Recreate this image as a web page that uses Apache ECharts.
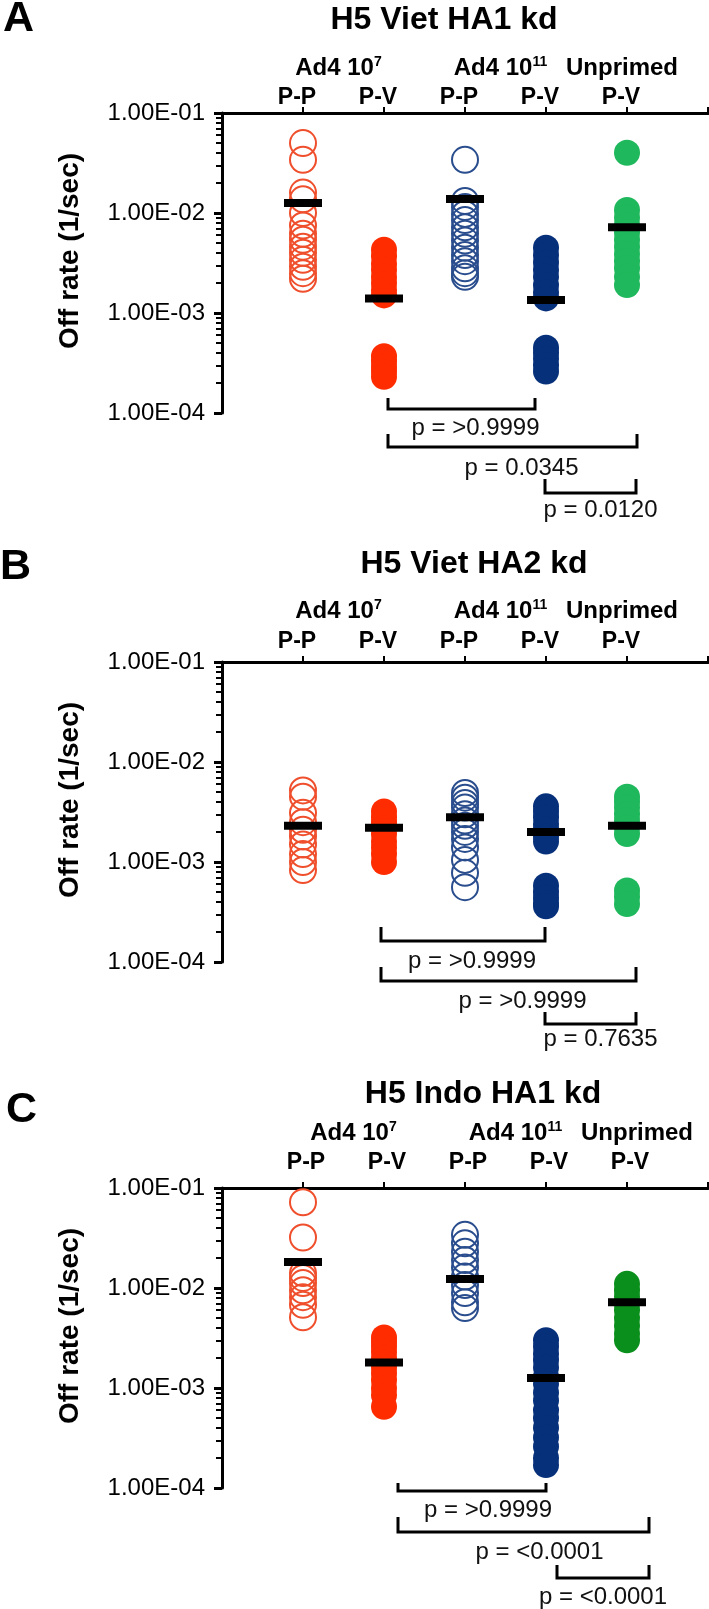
<!DOCTYPE html>
<html><head><meta charset="utf-8">
<script src="https://cdn.jsdelivr.net/npm/echarts@6/dist/echarts.min.js"></script>
<style>html,body{margin:0;padding:0;background:#fff}#c{width:709px;height:1609px}</style>
</head><body><div id="c"></div>
<script>
// ---------- data ----------
const panelLetters = ['A', 'B', 'C'];
const panelTitles = ['H5 Viet HA1 kd', 'H5 Viet HA2 kd', 'H5 Indo HA1 kd'];
const subLabels = ['P-P', 'P-V', 'P-P', 'P-V', 'P-V'];
const groupNames = ['Ad4 10', 'Ad4 10', 'Unprimed'];
const groupSups = ['7', '11', ''];
const groupSpans = [[1, 2], [3, 4], [5, 5]];
const yAxisName = 'Off rate (1/sec)';
const yMajorTicks = [1e-4, 1e-3, 1e-2, 1e-1];
const comparisons = [[2, 4], [2, 5], [4, 5]];

// Panel A: H5 Viet HA1 kd
const A_ad4e7_PP = [0.050, 0.034, 0.016, 0.0137, 0.010, 0.0075, 0.0062, 0.0054, 0.0046, 0.0040, 0.0034, 0.0029, 0.0025, 0.0022];
const A_ad4e7_PV = [0.0043, 0.0037, 0.0031, 0.0027, 0.0023, 0.0020, 0.0017, 0.0015, 0.00037, 0.00033, 0.00029, 0.00026, 0.00023];
const A_ad4e11_PP = [0.034, 0.0132, 0.0115, 0.0098, 0.0085, 0.0072, 0.0062, 0.0053, 0.0045, 0.0038, 0.0033, 0.0028, 0.0025, 0.0023];
const A_ad4e11_PV = [0.0045, 0.0038, 0.0032, 0.0027, 0.0023, 0.0019, 0.0016, 0.0014, 0.00045, 0.00040, 0.00035, 0.00030, 0.00026];
const A_unprimed_PV = [0.040, 0.0107, 0.0090, 0.0076, 0.0064, 0.0054, 0.0046, 0.0039, 0.0033, 0.0028, 0.0023, 0.0019];
const A_means = [0.0126, 0.0014, 0.0138, 0.00135, 0.0072];
const A_pvalues = ['p = >0.9999', 'p = 0.0345', 'p = 0.0120'];

// Panel B: H5 Viet HA2 kd
const B_ad4e7_PP = [0.0052, 0.0045, 0.0031, 0.0025, 0.0021, 0.0018, 0.0015, 0.0012, 0.0010, 0.00083];
const B_ad4e7_PV = [0.0032, 0.0028, 0.0025, 0.0022, 0.0019, 0.0016, 0.0014, 0.0012, 0.0010];
const B_ad4e11_PP = [0.0049, 0.0044, 0.0039, 0.0035, 0.0030, 0.0026, 0.0023, 0.0020, 0.0017, 0.0014, 0.00105, 0.00078, 0.00056];
const B_ad4e11_PV = [0.0036, 0.0032, 0.0028, 0.0024, 0.0021, 0.0018, 0.0016, 0.00058, 0.00050, 0.00044, 0.00039, 0.00036];
const B_unprimed_PV = [0.0045, 0.0040, 0.0035, 0.0030, 0.0026, 0.0022, 0.0019, 0.00052, 0.00045, 0.00038];
const B_means = [0.0023, 0.0022, 0.0028, 0.0020, 0.0023];
const B_pvalues = ['p = >0.9999', 'p = >0.9999', 'p = 0.7635'];

// Panel C: H5 Indo HA1 kd
const C_ad4e7_PP = [0.072, 0.032, 0.0141, 0.0126, 0.0112, 0.0095, 0.0081, 0.0068, 0.0051];
const C_ad4e7_PV = [0.0032, 0.0029, 0.0026, 0.0023, 0.0020, 0.0018, 0.0016, 0.0014, 0.0012, 0.0010, 0.00085, 0.00065];
const C_ad4e11_PP = [0.034, 0.028, 0.023, 0.019, 0.016, 0.013, 0.0107, 0.0089, 0.0072, 0.0063];
const C_ad4e11_PV = [0.0030, 0.0026, 0.0022, 0.0019, 0.0016, 0.0013, 0.0011, 0.0009, 0.00075, 0.0006, 0.0005, 0.0004, 0.00032, 0.00026, 0.0002, 0.00017];
const C_unprimed_PV = [0.011, 0.0095, 0.0082, 0.0070, 0.0060, 0.0050, 0.0042, 0.0035, 0.0030];
const C_means = [0.0182, 0.0018, 0.0123, 0.00126, 0.0072];
const C_pvalues = ['p = >0.9999', 'p = <0.0001', 'p = <0.0001'];

const panelData = [
  {groups: [A_ad4e7_PP, A_ad4e7_PV, A_ad4e11_PP, A_ad4e11_PV, A_unprimed_PV], means: A_means, pvalues: A_pvalues},
  {groups: [B_ad4e7_PP, B_ad4e7_PV, B_ad4e11_PP, B_ad4e11_PV, B_unprimed_PV], means: B_means, pvalues: B_pvalues},
  {groups: [C_ad4e7_PP, C_ad4e7_PV, C_ad4e11_PP, C_ad4e11_PV, C_unprimed_PV], means: C_means, pvalues: C_pvalues}
];

// ---------- layout / style ----------
const FONT = '"Liberation Sans", Arial, Helvetica, sans-serif';
const groupStyle = [
  {color: '#ef4f2c', open: true},
  {color: '#ff2c00', open: false},
  {color: '#2a4d8e', open: true},
  {color: '#07307a', open: false},
  {color: null, open: false}
];
const layout = [
  {top: 113, letterX: 3, letterY: 19, titleX: 444, titleY: 20, green: '#1fb85c',
   subMargin: 4, subPad: [0, 12, 0, 0], groupGap: 32, groupPad: [0, 10, 0, 0],
   rows: [{top: -15, line: -4, text: 15, dl: 4, dr: -11, dt: 14},
          {top: 21, line: 34, text: 55, dl: 4, dr: 10, dt: 9},
          {top: 66, line: 80, text: 97, dl: -1, dr: 9, dt: 10}]},
  {top: 662, letterX: 0, letterY: 567, titleX: 474, titleY: 564, green: '#1fb85c',
   subMargin: 9, subPad: [0, 12, 0, 0], groupGap: 38, groupPad: [0, 10, 0, 0],
   rows: [{top: -35, line: -21, text: -1, dl: -3, dr: -1, dt: 9},
          {top: 5, line: 19, text: 39, dl: -3, dr: 9, dt: 14},
          {top: 50, line: 62, text: 77, dl: -1, dr: 9, dt: 10}]},
  {top: 1188, letterX: 6, letterY: 1110, titleX: 483, titleY: 1094, green: '#0b8f1c',
   subMargin: 14, subPad: [0, 0, 0, 6], groupGap: 42, groupPad: [0, 0, 0, 20],
   rows: [{top: -5, line: 3, text: 22, dl: 14, dr: 0, dt: 16},
          {top: 29, line: 44, text: 64, dl: 14, dr: 22, dt: 16},
          {top: 77, line: 90, text: 109, dl: 11, dr: 22, dt: 0}]}
];

const yMin = 1e-4, yMax = 1e-1;
const groupCenters = groupSpans.map(s => (s[0] + s[1]) / 2);

function sciLabel(v) {
  const e = Math.round(Math.log10(v));
  const m = v / Math.pow(10, e);
  const sign = e < 0 ? '-' : '+';
  return m.toFixed(2) + 'E' + sign + String(Math.abs(e)).padStart(2, '0');
}

const option = {
  animation: false,
  textStyle: {fontFamily: FONT},
  title: [], grid: [], xAxis: [], yAxis: [], series: []
};

layout.forEach((L, p) => {
  const D = panelData[p];
  option.title.push({text: panelLetters[p], left: L.letterX, top: L.letterY, padding: 0,
    textAlign: 'left', textVerticalAlign: 'middle',
    textStyle: {fontSize: 43, fontWeight: 'bold', color: '#000', fontFamily: FONT}});
  option.title.push({text: panelTitles[p], left: L.titleX, top: L.titleY, padding: 0,
    textAlign: 'center', textVerticalAlign: 'middle',
    textStyle: {fontSize: 32, fontWeight: 'bold', color: '#000', fontFamily: FONT}});
  option.grid.push({left: 222, top: L.top, width: 486, height: 300, containLabel: false, outerBoundsMode: 'none'});

  const xMain = option.xAxis.length;
  option.xAxis.push({
    gridIndex: p, type: 'value', position: 'top', min: 0, max: 6,
    axisLine: {show: true, onZero: false, lineStyle: {color: '#000', width: 3}},
    axisTick: {show: true, customValues: [1, 2, 3, 4, 5, 6], length: 6, lineStyle: {color: '#000', width: 2}},
    axisLabel: {show: true, customValues: [1, 2, 3, 4, 5], formatter: v => subLabels[Math.round(v) - 1],
      fontSize: 23, fontWeight: 'bold', color: '#000', margin: L.subMargin, padding: L.subPad, fontFamily: FONT},
    splitLine: {show: false}
  });
  option.xAxis.push({
    gridIndex: p, type: 'value', position: 'top', min: 0, max: 6, offset: 0,
    axisLine: {show: false}, axisTick: {show: false}, splitLine: {show: false},
    axisLabel: {show: true, customValues: groupCenters, margin: L.groupGap, padding: L.groupPad,
      formatter: v => {
        const i = groupCenters.indexOf(v);
        return '{g|' + groupNames[i] + '}' + (groupSups[i] ? '{s|' + groupSups[i] + '}' : '');
      },
      rich: {
        g: {fontSize: 24, fontWeight: 'bold', color: '#000', lineHeight: 26, fontFamily: FONT},
        s: {fontSize: 14, fontWeight: 'bold', color: '#000', lineHeight: 14, verticalAlign: 'top', fontFamily: FONT}
      }}
  });

  const yMain = option.yAxis.length;
  option.yAxis.push({
    gridIndex: p, type: 'log', logBase: 10, min: yMin, max: yMax, position: 'left',
    axisLine: {show: true, onZero: false, lineStyle: {color: '#000', width: 3}},
    axisTick: {show: true, customValues: yMajorTicks, length: 8, lineStyle: {color: '#000', width: 3}},
    minorTick: {show: true, splitNumber: 9, length: 6, lineStyle: {color: '#000', width: 2}},
    axisLabel: {show: true, customValues: yMajorTicks, formatter: sciLabel, fontSize: 24, color: '#000', margin: 17, fontFamily: FONT},
    splitLine: {show: false}, minorSplitLine: {show: false},
    name: yAxisName, nameLocation: 'middle', nameRotate: 90, nameGap: 138,
    nameTextStyle: {fontSize: 28, fontWeight: 'bold', color: '#000', padding: [0, 0, 0, 24], fontFamily: FONT}
  });

  D.groups.forEach((vals, g) => {
    const st = groupStyle[g];
    const col = st.color || L.green;
    option.series.push({
      type: 'scatter', xAxisIndex: xMain, yAxisIndex: yMain, silent: true,
      symbol: 'circle', symbolSize: 26,
      itemStyle: st.open ? {color: 'rgba(255,255,255,0)', borderColor: col, borderWidth: 2, opacity: 1}
                         : {color: col, opacity: 1},
      data: vals.map(v => [g + 1, v]), z: 2
    });
  });
  option.series.push({
    type: 'scatter', xAxisIndex: xMain, yAxisIndex: yMain, silent: true,
    symbol: 'rect', symbolSize: [38, 8], itemStyle: {color: '#000', opacity: 1},
    data: D.means.map((m, g) => [g + 1, m]), z: 5
  });
  option.series.push({
    type: 'custom', xAxisIndex: xMain, yAxisIndex: yMain, silent: true, clip: false, z: 6,
    encode: {x: [0, 1], y: 2},
    data: comparisons.map(c => [c[0], c[1], yMin]),
    renderItem: (params, api) => {
      const i = params.dataIndex;
      const row = L.rows[i];
      const yb = api.coord([1, yMin])[1];
      const x1 = api.coord([api.value(0), yMin])[0] + row.dl;
      const x2 = api.coord([api.value(1), yMin])[0] + row.dr;
      return {type: 'group', children: [
        {type: 'polyline', shape: {points: [[x1, yb + row.top], [x1, yb + row.line], [x2, yb + row.line], [x2, yb + row.top]]},
         style: {stroke: '#000', lineWidth: 3, fill: null}},
        {type: 'text', style: {text: D.pvalues[i], x: (x1 + x2) / 2 + row.dt, y: yb + row.text,
          align: 'center', verticalAlign: 'middle', fontSize: 24, fontFamily: FONT, fill: '#111'}}
      ]};
    }
  });
});

const chart = echarts.init(document.getElementById('c'), null, {renderer: 'canvas'});
chart.setOption(option);
</script>
</body></html>
